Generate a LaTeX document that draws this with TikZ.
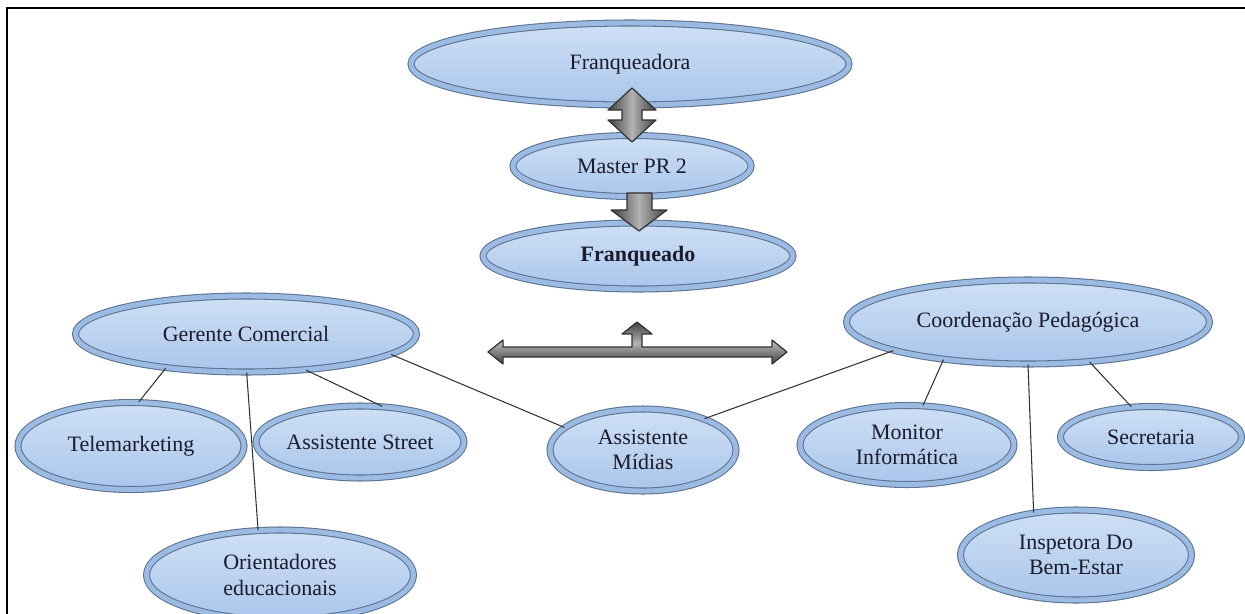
\documentclass[tikz,border=0pt]{standalone}
\usepackage{fontspec}
\setmainfont{Liberation Serif}
\usetikzlibrary{shapes.geometric}

\definecolor{rimdark}{HTML}{5C7391}
\definecolor{rimlight}{HTML}{9CBBE2}
\definecolor{filltop}{HTML}{CFE0F6}
\definecolor{fillbot}{HTML}{AAC6EB}
\definecolor{inkcol}{HTML}{1B1B2B}
\definecolor{arrowedge}{HTML}{333333}

\begin{document}
\begin{tikzpicture}[
  x=0.2mm, y=-0.2mm,
  font=\fontsize{12.5}{14.5}\selectfont,
  unitstyle/.style={ellipse, draw=rimdark, double=rimlight, double distance=2.8pt, line width=0.6pt,
    top color=filltop, bottom color=fillbot, inner sep=0pt, align=center, text=inkcol},
  linkstyle/.style={draw=black!80, line width=0.6pt},
  blockarrow/.style={draw=arrowedge, line width=0.7pt, line join=round,
    left color=black!75, right color=black!75, middle color=black!30},
  blockarrowh/.style={blockarrow, top color=black!75, bottom color=black!75, middle color=black!30},
  framestyle/.style={line width=1.1pt},
]
\useasboundingbox (0,0) rectangle (1245,614);

% --- frame (top and left edge only) ---
\draw[framestyle] (7,614) -- (7,8) -- (1245,8);

% --- top chain ---
\node[unitstyle, minimum width=87.6mm, minimum height=16.4mm] (fqa) at (630,64) {Franqueadora};
\node[unitstyle, minimum width=47.6mm, minimum height=12.2mm] (mst) at (632,166) {Master PR 2};
\node[unitstyle, minimum width=62mm, minimum height=13.2mm] (fqo) at (638,256) {\textbf{Franqueado}};

% --- commercial side ---
\node[unitstyle, minimum width=68.2mm, minimum height=15.2mm] (ger) at (246,334) {Gerente Comercial};
\node[unitstyle, minimum width=45.2mm, minimum height=17.4mm] (tel) at (131,446) {Telemarketing};
\node[unitstyle, minimum width=40.6mm, minimum height=14.4mm] (str) at (360,442) {Assistente Street};
\node[unitstyle, minimum width=53.4mm, minimum height=18mm] (ori) at (280,575) {Orientadores\\educacionais};

% --- shared ---
\node[unitstyle, minimum width=37.2mm, minimum height=16.4mm] (mid) at (643,450) {Assistente\\Mídias};

% --- pedagogical side ---
\node[unitstyle, minimum width=72.6mm, minimum height=16.8mm] (coo) at (1028,322) {Coordenação Pedagógica};
\node[unitstyle, minimum width=42.8mm, minimum height=15.8mm] (mon) at (907,445) {Monitor\\Informática};
\node[unitstyle, minimum width=36.2mm, minimum height=12.2mm] (sec) at (1151,437) {Secretaria};
\node[unitstyle, minimum width=46.2mm, minimum height=18mm] (ins) at (1076,555) {Inspetora Do\\Bem-Estar};

% links
\draw[linkstyle] (ger.203) -- (tel.80);
\draw[linkstyle] (ger.271) -- (ori.116);
\draw[linkstyle] (ger.329) -- (str.58);
\draw[linkstyle] (ger.352) -- (mid.164);
\draw[linkstyle] (coo.192) -- (mid.27);
\draw[linkstyle] (coo.204) -- (mon.68);
\draw[linkstyle] (coo.270) -- (ins.135);
\draw[linkstyle] (coo.327) -- (sec.123);

% --- block arrows ---
\draw[blockarrow] (632,88) -- (656,110) -- (642,110) -- (642,120) -- (656,120) -- (632,142)
  -- (608,120) -- (622,120) -- (622,110) -- (608,110) -- cycle;
\draw[blockarrow] (627,193) -- (652,193) -- (652,210) -- (667,210) -- (639,231) -- (611,210)
  -- (627,210) -- cycle;
\draw[blockarrowh] (488,352) -- (503,340) -- (503,347) -- (632,347) -- (632,334) -- (622,334)
  -- (637,322) -- (652,334) -- (642,334) -- (642,347) -- (772,347) -- (772,340) -- (787,352)
  -- (772,364) -- (772,357) -- (503,357) -- (503,364) -- cycle;

\end{tikzpicture}
\end{document}
